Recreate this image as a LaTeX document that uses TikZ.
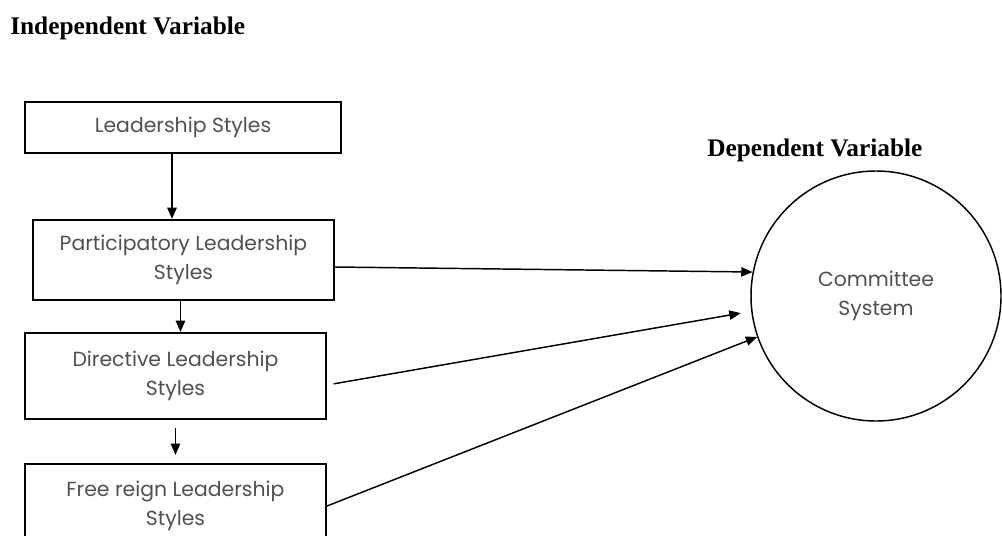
\documentclass[tikz,border=0pt]{standalone}
\usepackage{fontspec}
\setmainfont{Liberation Serif}
\newfontfamily\boxfont{Poppins}
\usepackage{tikz}
\usetikzlibrary{arrows.meta}
\definecolor{txt}{RGB}{80, 80, 80}
\tikzset{
  varbox/.style={rectangle, draw=black, line width=1.6pt, text=txt, align=center,
    font=\boxfont\fontsize{15.3pt}{21.75pt}\selectfont, inner sep=0pt},
  heading/.style={font=\bfseries\fontsize{19pt}{22pt}\selectfont, inner sep=0pt, anchor=base west},
  link/.style={line width=1.1pt, -{Triangle[length=8.5pt, width=7pt]}},
  downlink/.style={link, line width=1.4pt}
}
\begin{document}
\begin{tikzpicture}
\useasboundingbox (0pt, 0pt) rectangle (751.5pt, -401.25pt);
\clip (0pt, 0pt) rectangle (751.5pt, -401.25pt);
% headings
\node (indep) [heading] at (7.5pt, -26.0pt) {Independent Variable};
\node (dep) [heading] at (530.25pt, -117.0pt) {Dependent Variable};
% independent variable boxes
\node (lead) [varbox, minimum width=237pt, minimum height=38.25pt] at (137.25pt, -95.6pt) {Leadership Styles};
\node (part) [varbox, minimum width=225.75pt, minimum height=60pt] at (137.6pt, -195.0pt) {Participatory Leadership\\Styles};
\node (dirc) [varbox, minimum width=225.75pt, minimum height=64.5pt] at (131.6pt, -282.0pt) {Directive Leadership\\Styles};
\node (free) [varbox, minimum width=225.75pt, minimum height=63pt] at (131.6pt, -379.5pt) {Free reign Leadership\\Styles};
% dependent variable
\node (comm) [circle, draw=black, line width=1.1pt, minimum size=187.5pt, text=txt, align=center,
  font=\boxfont\fontsize{15.3pt}{21.75pt}\selectfont] at (657.0pt, -222.0pt) {Committee\\System};
% arrows down the chain
\draw [downlink] ([xshift=-8.25pt]lead.south) -- ([xshift=-8.25pt]lead.south |- part.north);
\draw [downlink] ([xshift=-2.25pt]part.south) -- ([xshift=-2.25pt]part.south |- dirc.north);
\draw [link, shorten <=6pt, shorten >=6pt] (dirc.south) -- (dirc.south |- free.north);
% arrows to the committee system
\draw [link] ([yshift=-5.25pt]part.east) -- (comm.169);
\draw [link, shorten <=5pt, shorten >=8pt] ([yshift=-6.75pt]dirc.east) -- (comm.187);
\draw [link] (free.east) -- (comm.199.5);
\end{tikzpicture}
\end{document}
